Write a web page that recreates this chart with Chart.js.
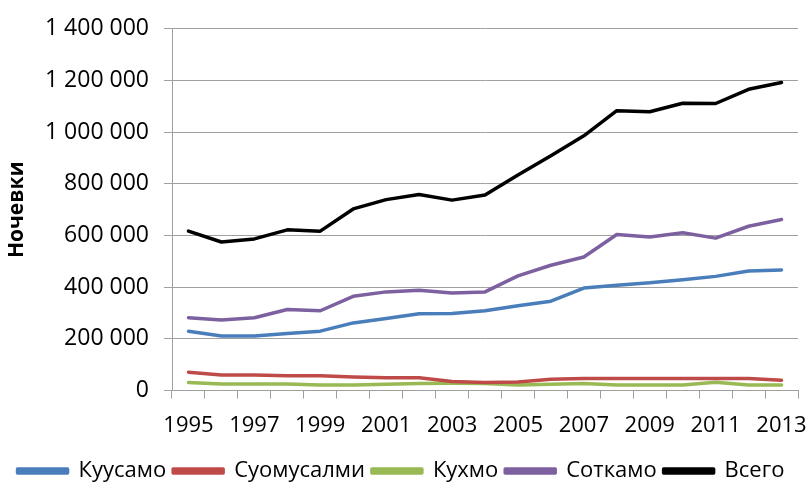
<!DOCTYPE html>
<html>
<head>
<meta charset="utf-8">
<script src="https://cdn.jsdelivr.net/npm/chart.js@4.4.0/dist/chart.umd.min.js"></script>
<style>
  html, body { margin: 0; padding: 0; background: #fff; }
  #wrap { width: 808px; height: 487px; }
</style>
</head>
<body>
<div id="wrap"><canvas id="nights"></canvas></div>
<script>
var years = ["1995","1996","1997","1998","1999","2000","2001","2002","2003","2004",
             "2005","2006","2007","2008","2009","2010","2011","2012","2013"];
var kuusamo    = [230000,211000,211000,221000,230000,262000,279000,297000,298000,309000,
                  328000,346000,397000,408000,417000,429000,442000,463000,467000];
var suomussalmi = [71000,60000,60000,57000,57000,53000,50000,50000,35000,31000,
                   33000,44000,47000,47000,47000,47000,47000,47000,40000];
var kuhmo      = [31000,26000,26000,26000,22000,22000,25000,27000,28000,27000,
                  22000,25000,27000,22000,22000,22000,32000,22000,22000];
var sotkamo    = [282000,273000,282000,314000,309000,365000,382000,388000,378000,382000,
                  444000,485000,517000,604000,594000,611000,590000,636000,662000];
var total      = [617000,575000,587000,622000,617000,703000,739000,759000,737000,757000,
                  834000,909000,986000,1083000,1079000,1112000,1111000,1166000,1192000];
var seriesNames = ["Куусамо","Суомусалми","Кухмо","Соткамо","Всего"];

var colors = ["#4a7ebb","#be4b48","#98b954","#7d60a0","#000000"];
var gridGray = "#a0a0a0";
var fontFamily = "'Open Sans', sans-serif";

function spaced(v) {
  return String(v).replace(/\B(?=(\d{3})+(?!\d))/g, " ");
}

var allSeries = [kuusamo, suomussalmi, kuhmo, sotkamo, total];
var datasets = [];
for (var i = 0; i < allSeries.length; i++) {
  datasets.push({
    label: seriesNames[i],
    data: allSeries[i],
    borderColor: colors[i],
    backgroundColor: colors[i],
    borderWidth: 3.5,
    pointRadius: 0,
    tension: 0,
    borderCapStyle: "round",
    borderJoinStyle: "round"
  });
}

var ctx = document.getElementById("nights");
var chart = new Chart(ctx, {
  type: "line",
  data: { labels: years, datasets: datasets },
  options: {
    responsive: true,
    maintainAspectRatio: false,
    animation: false,
    layout: { padding: { top: 26, right: 10, left: 4, bottom: -5 } },
    plugins: {
      tooltip: { enabled: false },
      legend: {
        position: "bottom",
        labels: {
          color: "#000",
          font: { family: fontFamily, size: 22 },
          boxWidth: 50,
          boxHeight: 4,
          padding: 7
        }
      }
    },
    scales: {
      x: {
        offset: true,
        grid: { offset: true, drawOnChartArea: false, color: gridGray, tickLength: 8 },
        border: { color: gridGray },
        ticks: {
          autoSkip: false,
          maxRotation: 0,
          color: "#000",
          font: { family: fontFamily, size: 22 },
          padding: 14,
          callback: function (val, idx) { return idx % 2 === 0 ? this.getLabelForValue(val) : ""; }
        },
        // the end labels may hang past the plot edge, like in the original
        afterFit: function (scale) { scale.paddingLeft = 0; scale.paddingRight = 0; }
      },
      y: {
        min: 0,
        max: 1400000,
        grid: { color: gridGray, tickLength: 8 },
        border: { color: gridGray },
        ticks: {
          stepSize: 200000,
          color: "#000",
          font: { family: fontFamily, size: 23 },
          padding: 15,
          callback: function (v) { return spaced(v); }
        },
        title: {
          display: true,
          text: "Ночевки",
          color: "#000",
          font: { family: fontFamily, size: 21, weight: "bold" },
          padding: { top: 0, bottom: 4 }
        },
        afterFit: function (scale) { scale.width = 168; }
      }
    }
  }
});
</script>
</body>
</html>
